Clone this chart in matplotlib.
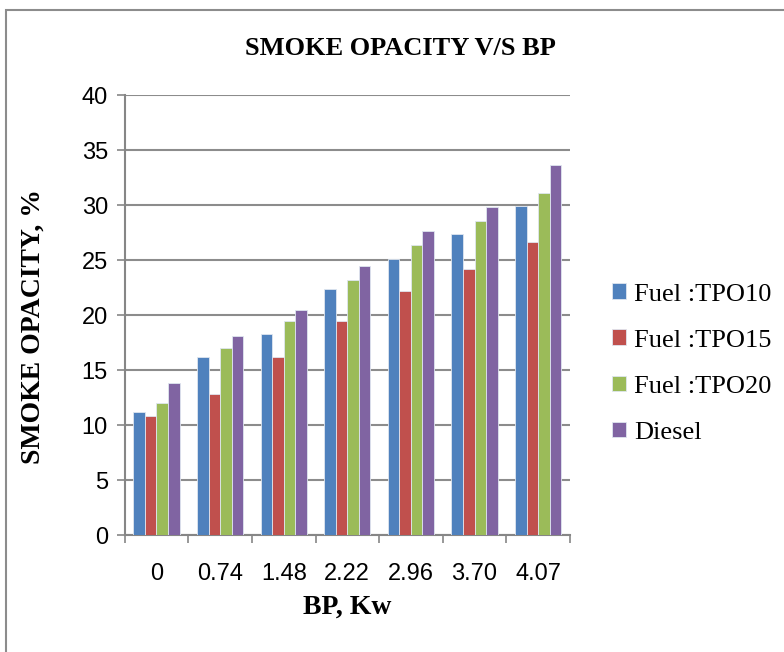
import matplotlib.pyplot as plt
import numpy as np
from matplotlib.patches import Rectangle

# data
bp = ["0", "0.74", "1.48", "2.22", "2.96", "3.70", "4.07"]
tpo10 = [11.2, 16.2, 18.3, 22.4, 25.1, 27.4, 29.9]
tpo15 = [10.8, 12.8, 16.2, 19.5, 22.2, 24.2, 26.7]
tpo20 = [12.0, 17.0, 19.5, 23.2, 26.4, 28.6, 31.1]
diesel = [13.8, 18.1, 20.5, 24.5, 27.7, 29.8, 33.7]

names = ["Fuel :TPO10", "Fuel :TPO15", "Fuel :TPO20", "Diesel"]
colors = ["#4F81BD", "#C0504D", "#9BBB59", "#8064A2"]

fig = plt.figure(figsize=(7.84, 6.52), dpi=100)
ax = fig.add_axes([0.159, 0.179, 0.568, 0.675])

# outer frame of the chart area
fig.patches.append(Rectangle((6/784, -0.1), 1.2, 1 - 10/652 + 0.1,
                             transform=fig.transFigure, fill=False,
                             edgecolor="#8c8c8c", linewidth=1.5))

x = np.arange(len(bp))
w = 1 / 5.5
for i, vals in enumerate([tpo10, tpo15, tpo20, diesel]):
    ax.bar(x + (i - 1.5) * w, vals, w, color=colors[i], label=names[i],
           edgecolor="#dfe6f0", linewidth=0.6, zorder=3)

ax.set_xlim(-0.5, len(bp) - 0.5)
ax.set_ylim(0, 40)
ax.set_yticks(range(0, 41, 5))
ax.set_xticks(x)
ax.set_xticklabels(bp)
ax.set_xticks(np.arange(-0.5, len(bp), 1), minor=True)
ax.tick_params(axis="x", which="major", length=0, pad=20, labelsize=17)
ax.tick_params(axis="x", which="minor", length=6, color="#868686", width=1.2)
ax.tick_params(axis="y", length=6, color="#868686", width=1.2, labelsize=17, pad=6)
for lab in ax.get_xticklabels() + ax.get_yticklabels():
    lab.set_fontfamily("Liberation Sans")

ax.grid(axis="y", color="#8c8c8c", linewidth=1.5, zorder=0)
for s in ["top", "right"]:
    ax.spines[s].set_visible(False)
for s in ["left", "bottom"]:
    ax.spines[s].set_color("#868686")
    ax.spines[s].set_linewidth(1.5)

serif = "Liberation Serif"
ax.set_title("SMOKE OPACITY V/S BP", fontfamily=serif, fontweight="bold",
             fontsize=19, pad=29, x=0.62)
ax.set_xlabel("BP, Kw", fontfamily=serif, fontweight="bold",
              fontsize=20, labelpad=7)
ax.set_ylabel("SMOKE OPACITY, %", fontfamily=serif, fontweight="bold",
              fontsize=20)
ax.yaxis.set_label_coords(-0.178, 0.475)

ax.legend(loc="center left", bbox_to_anchor=(1.04, 0.39), frameon=False,
          prop={"family": serif, "size": 19},
          handlelength=0.55, handleheight=0.55, handletextpad=0.3,
          labelspacing=0.9)

fig.savefig("out.png", dpi=100)
